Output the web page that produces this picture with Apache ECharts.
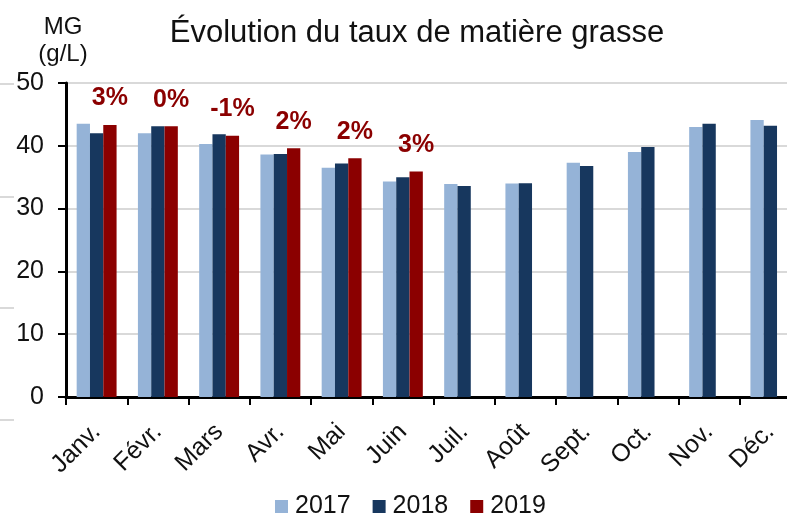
<!DOCTYPE html>
<html>
<head>
<meta charset="utf-8">
<script src="https://cdn.jsdelivr.net/npm/echarts@6/dist/echarts.min.js"></script>
<style>
  html, body { margin: 0; padding: 0; background: #fff; }
  #chart { width: 787px; height: 514px; }
</style>
</head>
<body>
<div id="chart"></div>
<script>
const months = ['Janv.', 'Févr.', 'Mars', 'Avr.', 'Mai', 'Juin', 'Juil.', 'Août', 'Sept.', 'Oct.', 'Nov.', 'Déc.']
const mg2017 = [43.5, 42.0, 40.3, 38.6, 36.5, 34.3, 33.9, 34.0, 37.3, 39.0, 43.0, 44.1]
const mg2018 = [42.0, 43.1, 41.85, 38.7, 37.2, 35.0, 33.6, 34.05, 36.8, 39.8, 43.5, 43.2]
const mg2019 = [43.3, 43.1, 41.6, 39.6, 38.0, 35.9, null, null, null, null, null, null]
// évolution 2019 / 2018
const evolution = ['3%', '0%', '-1%', '2%', '2%', '3%']
const yTicks = [0, 10, 20, 30, 40, 50]

const font = 'Liberation Sans, Arial, sans-serif'
const chart = echarts.init(document.getElementById('chart'))

function barSeries(name, data, color, withLabel) {
  const s = {
    name,
    type: 'bar',
    data,
    barWidth: 13.3,
    barGap: '0%',
    itemStyle: { color },
  }
  if (withLabel) {
    s.label = {
      show: true,
      position: 'top',
      distance: 14,
      fontFamily: font,
      fontSize: 25,
      fontWeight: 'bold',
      color: '#8b0000',
      formatter: p => evolution[p.dataIndex] || '',
    }
  }
  return s
}

// petits traits gris à gauche (reste du cadre d'origine)
const stubs = [84, 197, 308, 420].map(y => ({
  type: 'line',
  shape: { x1: 0, y1: y, x2: 14, y2: y },
  style: { stroke: '#d9d9d9', lineWidth: 2 },
}))

chart.setOption({
  animation: false,
  textStyle: { fontFamily: font },
  title: {
    text: 'Évolution du taux de matière grasse',
    left: 412,
    textAlign: 'center',
    top: 13,
    textStyle: { fontFamily: font, fontSize: 31, fontWeight: 'normal', color: '#111' },
  },
  legend: {
    left: 270,
    top: 489,
    icon: 'rect',
    itemWidth: 13,
    itemHeight: 13,
    itemGap: 22,
    textStyle: { fontFamily: font, fontSize: 25, color: '#111', padding: [0, 0, 0, 2] },
  },
  grid: {
    left: 66,
    right: -14,
    top: 83,
    bottom: 117,
    containLabel: false,
    outerBoundsMode: 'none',
  },
  graphic: stubs,
  xAxis: {
    type: 'category',
    data: months,
    axisLine: { lineStyle: { color: '#000', width: 3 } },
    axisTick: { show: true, length: 8, lineStyle: { color: '#000', width: 2 } },
    axisLabel: {
      rotate: 45,
      margin: 31,
      fontFamily: font,
      fontSize: 25,
      color: '#111',
      interval: 0,
    },
  },
  yAxis: {
    type: 'value',
    min: yTicks[0],
    max: yTicks[yTicks.length - 1],
    interval: 10,
    name: 'MG\n(g/L)',
    nameLocation: 'end',
    nameGap: 15,
    nameTextStyle: {
      fontFamily: font,
      fontSize: 24,
      lineHeight: 27,
      color: '#111',
      align: 'center',
      verticalAlign: 'bottom',
      padding: [0, 6, 0, 0],
    },
    axisLine: { show: true, lineStyle: { color: '#000', width: 3 } },
    axisTick: { show: true, inside: false, length: 8, lineStyle: { color: '#000', width: 2 } },
    axisLabel: { margin: 22, fontFamily: font, fontSize: 25, color: '#111' },
    splitLine: { lineStyle: { color: '#d9d9d9', width: 2 } },
  },
  series: [
    barSeries('2017', mg2017, '#95b3d7', false),
    barSeries('2018', mg2018, '#17375e', false),
    barSeries('2019', mg2019, '#8b0000', true),
  ],
})

window.addEventListener('resize', () => chart.resize())
</script>
</body>
</html>
